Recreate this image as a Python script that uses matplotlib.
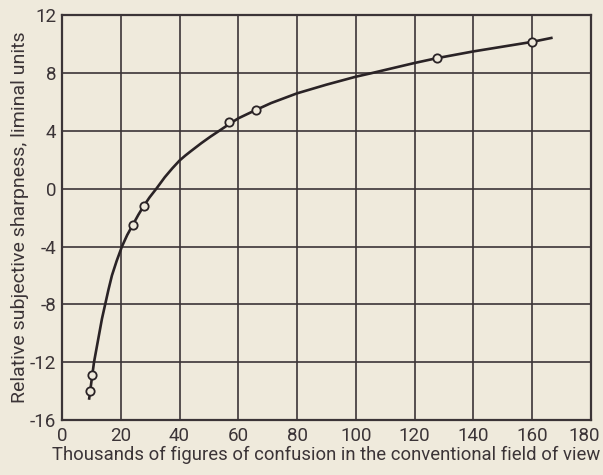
import matplotlib
matplotlib.use("Agg")
import matplotlib.pyplot as plt
from matplotlib.transforms import ScaledTranslation

# Smooth curve
curve_x = [9.2, 9.6, 10.3, 10.9, 11.8, 12.7, 13.6, 14.7, 15.8, 17.0, 18.6, 20.4,
           22.2, 24.1, 26.0, 27.8, 29.8, 32.1, 35.0, 37.5, 40.0, 42.0, 44.0, 47.4,
           50.5, 53.6, 56.9, 60.0, 66.0, 71.2, 80.0, 90.0, 100.0, 105.0, 120.0,
           127.5, 140.0, 150.0, 160.0, 167.0]
curve_y = [-14.6, -14.0, -12.9, -12.0, -11.0, -10.0, -9.0, -8.0, -7.0, -6.0, -5.0, -4.0,
           -3.2, -2.5, -1.8, -1.2, -0.6, 0.0, 0.8, 1.4, 1.95, 2.3, 2.62, 3.15,
           3.6, 4.02, 4.47, 4.87, 5.45, 5.93, 6.6, 7.2, 7.75, 7.98, 8.7,
           9.03, 9.5, 9.83, 10.16, 10.45]

# Observed points (open circles)
pts_x = [9.6, 10.3, 24.1, 27.8, 56.9, 66.0, 127.5, 160.0]
pts_y = [-14.0, -12.9, -2.5, -1.2, 4.63, 5.46, 9.03, 10.16]

x_ticks = [0, 20, 40, 60, 80, 100, 120, 140, 160, 180]
y_ticks = [-16, -12, -8, -4, 0, 4, 8, 12]

bg = "#efeadc"
ink = "#3b3437"
font = ["Roboto", "DejaVu Sans"]

fig = plt.figure(figsize=(6.03, 4.75), dpi=100, facecolor=bg)
ax = fig.add_axes([0.1028, 0.1158, 0.877, 0.852], facecolor=bg)

ax.set_xlim(0, 180)
ax.set_ylim(-16, 12)
ax.set_xticks(x_ticks)
ax.set_yticks(y_ticks)
ax.set_xticklabels([str(v) for v in x_ticks], family=font, fontsize=13.5, color=ink)
ax.set_yticklabels([str(v) for v in y_ticks], family=font, fontsize=13.5, color=ink)
ax.tick_params(axis="x", length=0, pad=5)
ax.tick_params(axis="y", length=0, pad=4)
ax.grid(True, color=ink, linewidth=1.2)
ax.set_axisbelow(True)
for s in ax.spines.values():
    s.set_color(ink)
    s.set_linewidth(1.6)

ax.plot(curve_x, curve_y, color="#2a2326", linewidth=1.9, solid_capstyle="butt",
        solid_joinstyle="round", zorder=3)
ax.plot(pts_x, pts_y, linestyle="none", marker="o", markersize=6,
        markerfacecolor=bg, markeredgecolor="#2a2326", markeredgewidth=1.3, zorder=4)

ax.set_xlabel("Thousands of figures of confusion in the conventional field of view",
              family=font, fontsize=13.3, color=ink, labelpad=1)
ax.set_ylabel("Relative subjective sharpness, liminal units",
              family=font, fontsize=14, color=ink, labelpad=1)

# keep the last x tick label inside the figure
fig.canvas.draw()
last = ax.get_xticklabels()[-1]
last.set_transform(last.get_transform() + ScaledTranslation(-5 / 72, 0, fig.dpi_scale_trans))

fig.savefig("out.png", dpi=100, facecolor=bg)
